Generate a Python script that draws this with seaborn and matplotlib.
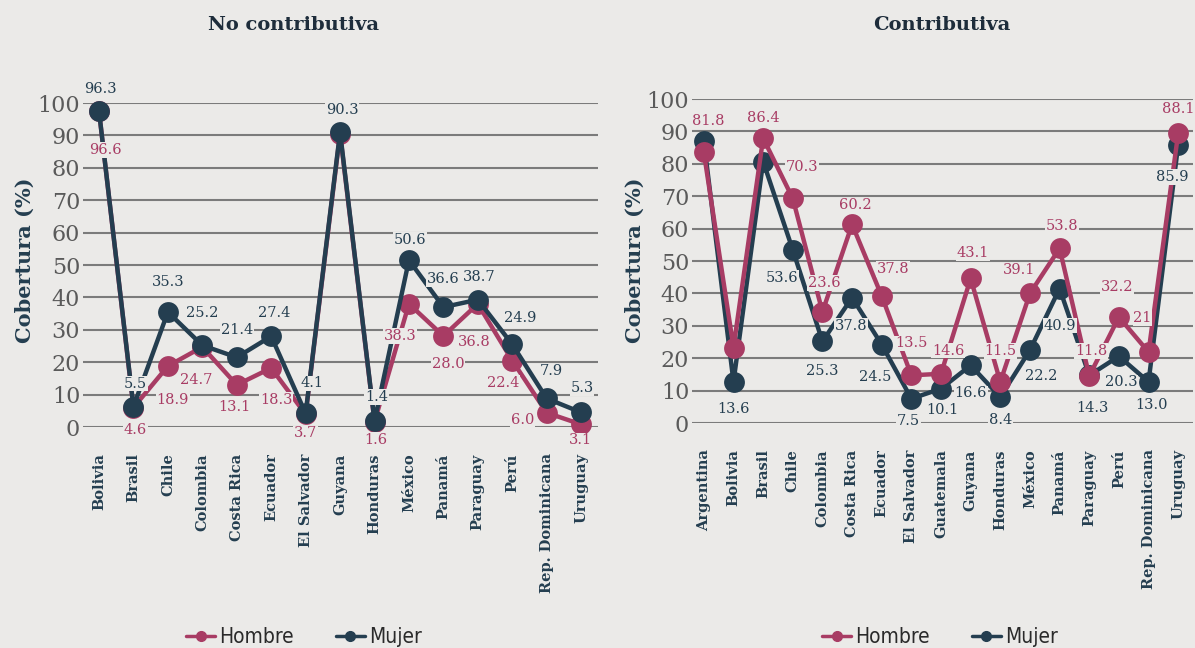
import seaborn as sns
import pandas as pd
import matplotlib
matplotlib.use('Agg')
from matplotlib import pyplot as plt
from matplotlib.lines import Line2D
from matplotlib.font_manager import FontProperties

# --- data: no contributiva ---
cats_nc = ['Bolivia', 'Brasil', 'Chile', 'Colombia', 'Costa Rica', 'Ecuador', 'El Salvador',
           'Guyana', 'Honduras', 'México', 'Panamá', 'Paraguay', 'Perú', 'Rep. Dominicana', 'Uruguay']
mujer_nc = [97.5, 6.3, 35.5, 25.2, 21.5, 28.0, 4.2, 91.0, 1.8, 51.5, 37.0, 39.3, 25.5, 8.8, 4.5]
hombre_nc = [97.5, 6.0, 18.8, 24.7, 13.0, 18.2, 3.9, 90.5, 1.6, 38.0, 28.1, 38.0, 20.5, 4.4, 0.8]
mujer_nc_lbl = ['96.3', '5.5', '35.3', '25.2', '21.4', '27.4', '4.1', '90.3', '1.4', '50.6',
                '36.6', '38.7', '24.9', '7.9', '5.3']
hombre_nc_lbl = ['96.6', '4.6', '18.9', '24.7', '13.1', '18.3', '3.7', None, '1.6', '38.3',
                 '28.0', '36.8', '22.4', '6.0', '3.1']

# --- data: contributiva ---
cats_c = ['Argentina', 'Bolivia', 'Brasil', 'Chile', 'Colombia', 'Costa Rica', 'Ecuador',
          'El Salvador', 'Guatemala', 'Guyana', 'Honduras', 'México', 'Panamá', 'Paraguay',
          'Perú', 'Rep. Dominicana', 'Uruguay']
mujer_c = [86.9, 12.7, 80.7, 53.4, 25.2, 38.7, 24.2, 7.5, 10.6, 17.8, 8.0, 22.5, 41.5, 14.7,
           20.6, 12.7, 85.8]
hombre_c = [83.5, 23.3, 87.9, 69.3, 34.3, 61.3, 39.2, 14.7, 15.2, 44.6, 12.7, 40.0, 53.9, 14.5,
            32.7, 21.9, 89.4]
mujer_c_lbl = [None, '13.6', None, '53.6', '25.3', '37.8', '24.5', '7.5', '10.1', '16.6', '8.4',
               '22.2', '40.9', '14.3', '20.3', '13.0', '85.9']
hombre_c_lbl = ['81.8', None, '86.4', '70.3', '23.6', '60.2', '37.8', '13.5', '14.6', '43.1',
                '11.5', '39.1', '53.8', '11.8', '32.2', '21', '88.1']

# label placement (pixels, image direction: +y = down)
off_mujer_nc = [(1, -22), (2, -23), (0, -30), (0, -32), (0, -27), (3, -23), (6, -30), (2, -22),
                (2, -24), (1, -20), (0, -28), (1, -23), (8, -26), (5, -27), (1, -24)]
off_hombre_nc = [(6, 39), (2, 22), (5, 34), (-6, 33), (-2, 22), (5, 32), (0, 19), (0, 0),
                 (1, 18), (-9, 32), (5, 28), (-4, 38), (-9, 22), (-24, 7), (-1, 16)]
off_mujer_c = [(0, 0), (0, 27), (0, 0), (-11, 28), (0, 30), (-1, 28), (-7, 32), (-3, 22),
               (1, 21), (0, 28), (0, 23), (11, 26), (0, 37), (3, 33), (2, 26), (3, 23), (-6, 32)]
off_hombre_c = [(4, -31), (0, 0), (0, -20), (9, -31), (2, -29), (3, -19), (11, -27), (0, -32),
                (7, -23), (2, -25), (0, -31), (-11, -23), (2, -22), (2, -25), (-2, -30),
                (-6, -34), (0, -24)]

BG = '#ebeae8'
PINK = '#a83c64'
DARK = '#243e50'
SERIF = 'DejaVu Serif'

sns.set_theme(style='white')
plt.rcParams['font.family'] = [SERIF, 'DejaVu Sans']

fig = plt.figure(figsize=(11.95, 6.48), dpi=100, facecolor=BG)
W, H = 1195, 648
ax1 = fig.add_axes([83 / W, 1 - 427 / H, (598 - 83) / W, (427 - 103) / H])
ax2 = fig.add_axes([692 / W, 1 - 423 / H, (1193 - 692) / W, (423 - 99) / H])


def draw(ax, cats, mujer, hombre, ml, hl, mo, ho, mujer_top, xlim):
    ax.set_facecolor(BG)
    x = list(range(len(cats)))
    df = pd.DataFrame({'x': x + x, 'v': hombre + mujer,
                       'serie': ['Hombre'] * len(x) + ['Mujer'] * len(x)})
    order = ['Hombre', 'Mujer'] if mujer_top else ['Mujer', 'Hombre']
    for k, s in enumerate(order):
        sub = df[df['serie'] == s]
        sns.lineplot(data=sub, x='x', y='v', ax=ax, color=PINK if s == 'Hombre' else DARK,
                     marker='o', markersize=15, markeredgewidth=0, linewidth=3.2,
                     sort=False, zorder=3 + k, clip_on=False, legend=False)
    for vals, lbls, offs, col in [(mujer, ml, mo, DARK), (hombre, hl, ho, PINK)]:
        for i, (v, t, o) in enumerate(zip(vals, lbls, offs)):
            if t is None:
                continue
            ax.annotate(t, (i, v), xytext=(o[0], -o[1]), textcoords='offset pixels',
                        ha='center', va='center', fontsize=10.5, color=col, zorder=6,
                        bbox=dict(boxstyle='square,pad=0.05', fc=BG, ec='none'))
    ax.set_ylim(0, 100)
    ax.set_xlim(*xlim)
    ax.set_yticks(range(0, 101, 10))
    ax.set_xticks(x)
    ax.set_xticklabels(cats, rotation=90, fontsize=10.5, fontweight='bold', color=DARK)
    ax.tick_params(axis='x', pad=19, length=0)
    ax.tick_params(axis='y', pad=2, length=0, labelsize=16, labelcolor='#5a5a5a')
    ax.grid(axis='y', color='#7b7b7b', linewidth=1.5)
    ax.grid(axis='x', visible=False)
    for sp in ax.spines.values():
        sp.set_visible(False)
    ax.set_xlabel('')
    ax.set_ylabel('')


draw(ax1, cats_nc, mujer_nc, hombre_nc, mujer_nc_lbl, hombre_nc_lbl,
     off_mujer_nc, off_hombre_nc, True, (-0.465, 14.49))
draw(ax2, cats_c, mujer_c, hombre_c, mujer_c_lbl, hombre_c_lbl,
     off_mujer_c, off_hombre_c, False, (-0.4, 16.5))

fig.text(294 / W, 1 - 25 / H, 'No contributiva', ha='center', va='center',
         fontsize=14, fontweight='bold', color='#1e2d3b')
fig.text(942 / W, 1 - 25 / H, 'Contributiva', ha='center', va='center',
         fontsize=14, fontweight='bold', color='#1e2d3b')
for xl in (25, 635):
    fig.text(xl / W, 1 - 260 / H, 'Cobertura (%)', rotation=90, ha='center', va='center',
             fontsize=15, fontweight='bold', color=DARK)

handles = [Line2D([], [], color=PINK, marker='o', markersize=7, linewidth=2.5),
           Line2D([], [], color=DARK, marker='o', markersize=7, linewidth=2.5)]
lp = FontProperties(family='DejaVu Sans', stretch='condensed', size=15)
for cx in (304, 940):
    leg = fig.legend(handles, ['Hombre', 'Mujer'], loc='center', ncol=2,
                     bbox_to_anchor=(cx / W, 11 / H), frameon=False, prop=lp,
                     handlelength=1.4, handletextpad=0.2, columnspacing=2.0)
    for t in leg.get_texts():
        t.set_color('#2a2a2a')

fig.savefig('out.png', dpi=100, facecolor=BG)
